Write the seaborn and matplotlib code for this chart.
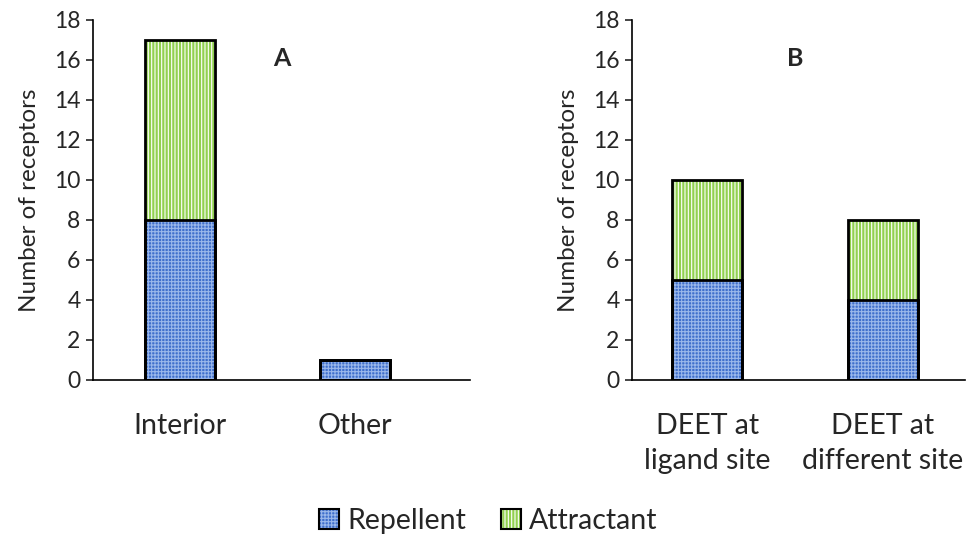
import pandas as pd
import matplotlib.pyplot as plt
import matplotlib.patches as mpatches
from matplotlib.legend_handler import HandlerTuple
import seaborn as sns

sns.set_style('white')
plt.rcParams['font.family'] = ['Lato', 'DejaVu Sans']
plt.rcParams['hatch.linewidth'] = 0.8

cats_a = ['Interior', 'Other']
rep_a = [8, 1]
att_a = [9, 0]

cats_b = ['DEET at\nligand site', 'DEET at\ndifferent site']
rep_b = [5, 4]
att_b = [5, 4]

blue = '#3f6fcc'
blue_hatch = '#9ab7ea'
green = '#92D050'
hatch_rep = '+++++'
hatch_att = '|||||'

fig = plt.figure(figsize=(9.67, 5.34), dpi=100)
ax_a = fig.add_axes([93 / 967, 1 - 380 / 534, 377 / 967, 360 / 534])
ax_b = fig.add_axes([632 / 967, 1 - 380 / 534, 333 / 967, 360 / 534])


def draw(ax, cats, rep, att, xlim, label):
    df = pd.DataFrame({'cat': cats, 'rep': rep,
                       'total': [r + a for r, a in zip(rep, att)]})
    sns.barplot(data=df, x='cat', y='total', color=green, width=0.4,
                saturation=1, ax=ax)
    n = len(ax.patches)
    sns.barplot(data=df, x='cat', y='rep', color=blue, width=0.4,
                saturation=1, ax=ax)
    for i, p in enumerate(list(ax.patches)):
        if p.get_height() == 0:
            continue
        p.set_hatch(hatch_att if i < n else hatch_rep)
        p.set_edgecolor(blue_hatch if i >= n else 'white')
        p.set_linewidth(0)
        ax.add_patch(mpatches.Rectangle(p.get_xy(), p.get_width(), p.get_height(),
                                        fill=False, edgecolor='black', lw=2, zorder=3))
    ax.set_xlim(*xlim)
    ax.set_ylim(0, 18)
    ax.set_yticks(range(0, 19, 2))
    ax.set_xlabel('')
    ax.set_ylabel('Number of receptors', fontsize=17.5, labelpad=10)
    ax.tick_params(axis='y', direction='out', length=5, width=1.2, left=True,
                   labelsize=16.5, pad=4)
    ax.tick_params(axis='x', length=0, labelsize=20.5, pad=24)
    for t in ax.get_xticklabels():
        t.set_linespacing(1.4)
    for s in ['top', 'right']:
        ax.spines[s].set_visible(False)
    for s in ['left', 'bottom']:
        ax.spines[s].set_linewidth(1.2)
        ax.spines[s].set_color('black')
    ax.text(label[1], 16.1, label[0], fontsize=18, fontweight='bold',
            ha='center', va='center')


draw(ax_a, cats_a, rep_a, att_a, (-0.497, 1.657), ('A', 0.58))
draw(ax_b, cats_b, rep_b, att_b, (-0.43, 1.47), ('B', 0.5))

h_rep = (mpatches.Patch(facecolor=blue, edgecolor=blue_hatch, hatch=hatch_rep, lw=0),
         mpatches.Patch(fill=False, edgecolor='black', lw=1.5))
h_att = (mpatches.Patch(facecolor=green, edgecolor='white', hatch=hatch_att, lw=0),
         mpatches.Patch(fill=False, edgecolor='black', lw=1.5))
fig.legend([h_rep, h_att], ['Repellent', 'Attractant'],
           handler_map={tuple: HandlerTuple(ndivide=1, pad=0)},
           loc='center', bbox_to_anchor=(0.505, 1 - 521 / 534), ncol=2,
           frameon=False, fontsize=20.5, handlelength=0.7, handleheight=0.7,
           handletextpad=0.3, columnspacing=1.2)

fig.savefig('out.png', dpi=100)
